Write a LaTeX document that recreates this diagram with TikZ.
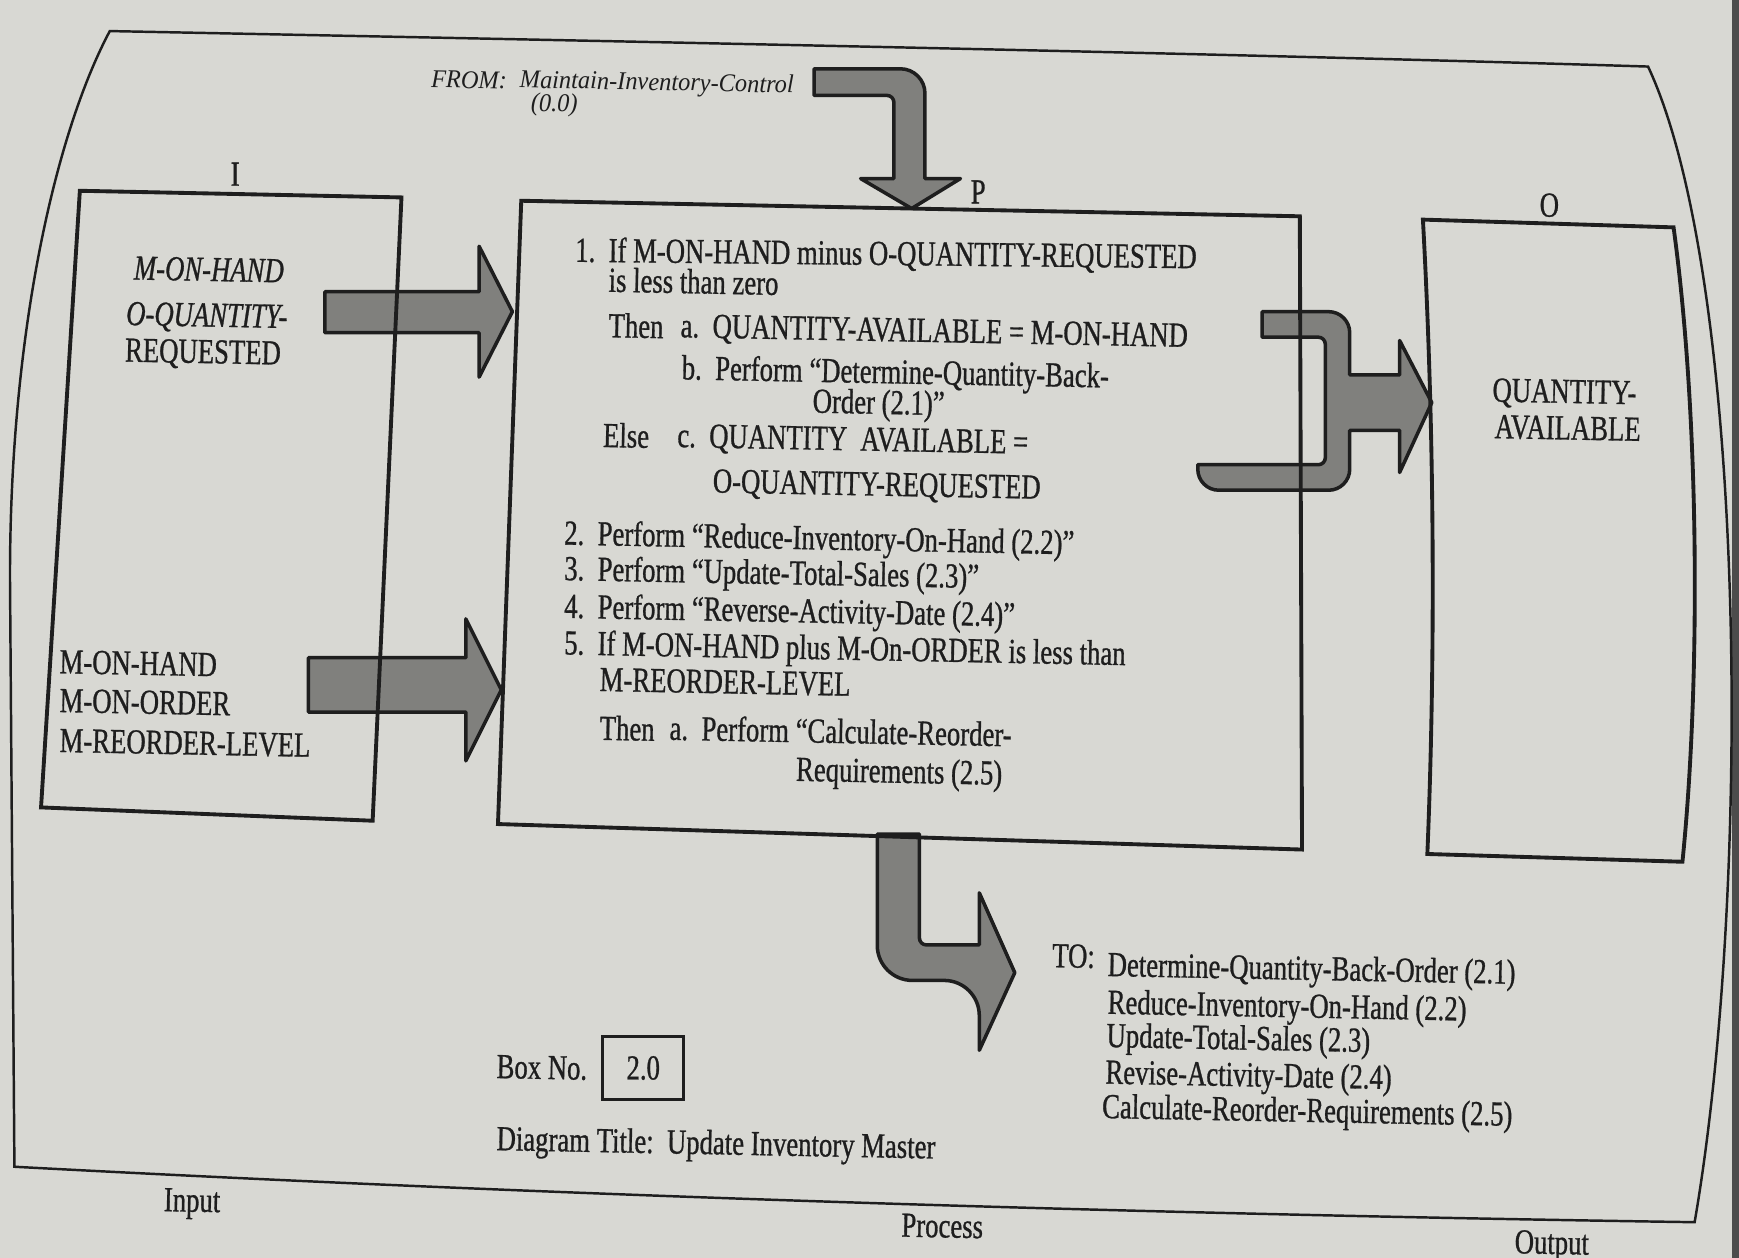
\documentclass[tikz,border=0pt]{standalone}
\usepackage{fontspec}
\setmainfont{Liberation Serif}[FakeStretch=0.76, FakeBold=0.8]
\newfontfamily\fromfont{Liberation Serif}[FakeStretch=0.95]
\usepackage{tikz}
\usetikzlibrary{positioning,calc}
\definecolor{paper}{RGB}{216,216,211}
\definecolor{ink}{RGB}{30,30,30}
\definecolor{arrowgrey}{RGB}{128,128,125}

\begin{document}
\begin{tikzpicture}[x=0.01109cm, y=-0.01109cm,
    frame/.style={draw=ink, line width=0.7pt},
    hipobox/.style={draw=ink, line width=1.1pt},
    fatarrow/.style={draw=ink, line width=1pt, fill=arrowgrey, line join=round},
    txt/.style={anchor=base west, inner sep=0pt, text=ink, rotate=-1.1,
        font=\fontsize{10}{12}\selectfont},
    lbl/.style={inner sep=0pt, text=ink, font=\fontsize{10}{12}\selectfont}]
    \useasboundingbox (0,0) rectangle (1568,1134);
    \fill[paper] (0,0) rectangle (1568,1134);
    % page edge of the photo
    \fill[black!70] (1562,0) rectangle (1568,1134);

    % Outer sheet
    \draw[frame] (99,28) .. controls (600,38) and (1100,48) .. (1486,60)
        .. controls (1575,250) and (1580,800) .. (1528,1102)
        .. controls (1000,1094) and (500,1078) .. (13,1052)
        -- (9,520) .. controls (9,300) and (50,120) .. cycle;

    % Fat arrows
    \draw[fatarrow] (734,62) [rounded corners=7pt] -- (834,62) [sharp corners]
        -- (834,161) -- (866,161) -- (822,188) -- (776,161) -- (806,161)
        [rounded corners=2pt] -- (806,86) [sharp corners] -- (734,86) -- cycle;
    \draw[fatarrow] (293,263) -- (432,263) -- (432,222) -- (462,281)
        -- (432,340) -- (432,300) -- (293,300) -- cycle;
    \draw[fatarrow] (278,593) -- (420,593) -- (420,558) -- (452,622)
        -- (420,686) -- (420,642) -- (278,642) -- cycle;
    \draw[fatarrow] (1138,281) [rounded corners=6pt] -- (1217,281) [sharp corners]
        -- (1217,338) -- (1262,338) -- (1262,307) -- (1291,363) -- (1262,426)
        -- (1262,388) -- (1217,388) [rounded corners=6pt] -- (1217,442)
        -- (1080,442) [sharp corners] -- (1080,419) [rounded corners=2pt]
        -- (1195,419) -- (1195,304) [sharp corners] -- (1138,304) -- cycle;
    \draw[fatarrow] (791,752) [rounded corners=10pt] -- (791,884) -- (883,884)
        [sharp corners] -- (883,947) -- (915,877) -- (883,805) -- (883,852)
        [rounded corners=2pt] -- (829,852) [sharp corners] -- (829,752) -- cycle;

    % I, P and O boxes
    \draw[hipobox] (72,172) -- (362,178) -- (336,740) -- (37,728) -- cycle;
    \draw[hipobox] (470,181) -- (1172,195) -- (1174,766) -- (449,743) -- cycle;
    \draw[hipobox] (1283,198) -- (1509,205) .. controls (1533,380) and (1533,620) .. (1517,777)
        -- (1287,770) .. controls (1294,600) and (1294,400) .. cycle;
    \node[lbl] (ilbl) at (212,157) {I};
    \node[lbl] (plbl) at (882,173) {P};
    \node[lbl] (olbl) at (1397,185) {O};

    % Caller
    \node[txt, font=\fontsize{7.3}{8}\fromfont\itshape] (from) at (388,79) {FROM:};
    \node[txt, font=\fontsize{7.3}{8}\fromfont\itshape] (caller) at (468,79) {Maintain-Inventory-Control};
    \node[txt, font=\fontsize{7.3}{8}\fromfont\itshape] (callerno) at (478,100) {(0.0)};

    % Input
    \node[txt, font=\fontsize{10}{12}\selectfont\itshape] (in1) at (120,252) {M-ON-HAND};
    \node[txt, font=\fontsize{10}{12}\selectfont\itshape] (in2) at (113,293) {O-QUANTITY-};
    \node[txt] (in3) at (112,326) {REQUESTED};
    \node[txt] (in4) at (53,607) {M-ON-HAND};
    \node[txt] (in5) at (53,642) {M-ON-ORDER};
    \node[txt] (in6) at (53,678) {M-REORDER-LEVEL};

    % Process
    \node[txt, rotate=0.5] (p1) at (518,236) {1.\ \ If M-ON-HAND minus O-QUANTITY-REQUESTED};
    \node[txt] (p1b) at (548,263) {is less than zero};
    \node[txt] (p1then) at (548,304) {Then};
    \node[txt] (p1a) at (613,304) {a.\ \ QUANTITY-AVAILABLE = M-ON-HAND};
    \node[txt] (p1bb) at (614,342) {b.\ \ Perform ``Determine-Quantity-Back-};
    \node[txt] (p1bc) at (732,372) {Order (2.1)''};
    \node[txt] (p1else) at (543,403) {Else};
    \node[txt] (p1c) at (610,403) {c.\ \ QUANTITY\ \ AVAILABLE =};
    \node[txt] (p1cc) at (642,444) {O-QUANTITY-REQUESTED};
    \node[txt] (p2) at (508,491) {2.\ \ Perform ``Reduce-Inventory-On-Hand (2.2)''};
    \node[txt] (p3) at (508,523) {3.\ \ Perform ``Update-Total-Sales (2.3)''};
    \node[txt] (p4) at (508,557) {4.\ \ Perform ``Reverse-Activity-Date (2.4)''};
    \node[txt] (p5) at (508,590) {5.\ \ If M-ON-HAND plus M-On-ORDER is less than};
    \node[txt] (p5b) at (540,623) {M-REORDER-LEVEL};
    \node[txt] (p5then) at (540,667) {Then};
    \node[txt] (p5a) at (603,667) {a.\ \ Perform ``Calculate-Reorder-};
    \node[txt] (p5aa) at (717,704) {Requirements (2.5)};

    % Output
    \node[txt] (out1) at (1345,362) {QUANTITY-};
    \node[txt] (out2) at (1347,395) {AVAILABLE};

    % Called modules
    \node[txt] (to) at (948,872) {TO:};
    \node[txt] (to1) at (998,880) {Determine-Quantity-Back-Order (2.1)};
    \node[txt] (to2) at (998,914) {Reduce-Inventory-On-Hand (2.2)};
    \node[txt] (to3) at (997,944) {Update-Total-Sales (2.3)};
    \node[txt] (to4) at (996,977) {Revise-Activity-Date (2.4)};
    \node[txt] (to5) at (993,1008) {Calculate-Reorder-Requirements (2.5)};

    % Box number and title
    \node[txt] (boxlbl) at (447,972) {Box No.};
    \node[draw=ink, line width=0.9pt, lbl, minimum width=23pt, minimum height=18pt] (boxno) at (580,963) {2.0};
    \node[txt] (title) at (447,1037) {Diagram Title:\ \ Update Inventory Master};

    % Column captions
    \node[txt] (incap) at (147,1092) {Input};
    \node[txt] (proccap) at (812,1115) {Process};
    \node[txt] (outcap) at (1365,1130) {Output};
\end{tikzpicture}
\end{document}
